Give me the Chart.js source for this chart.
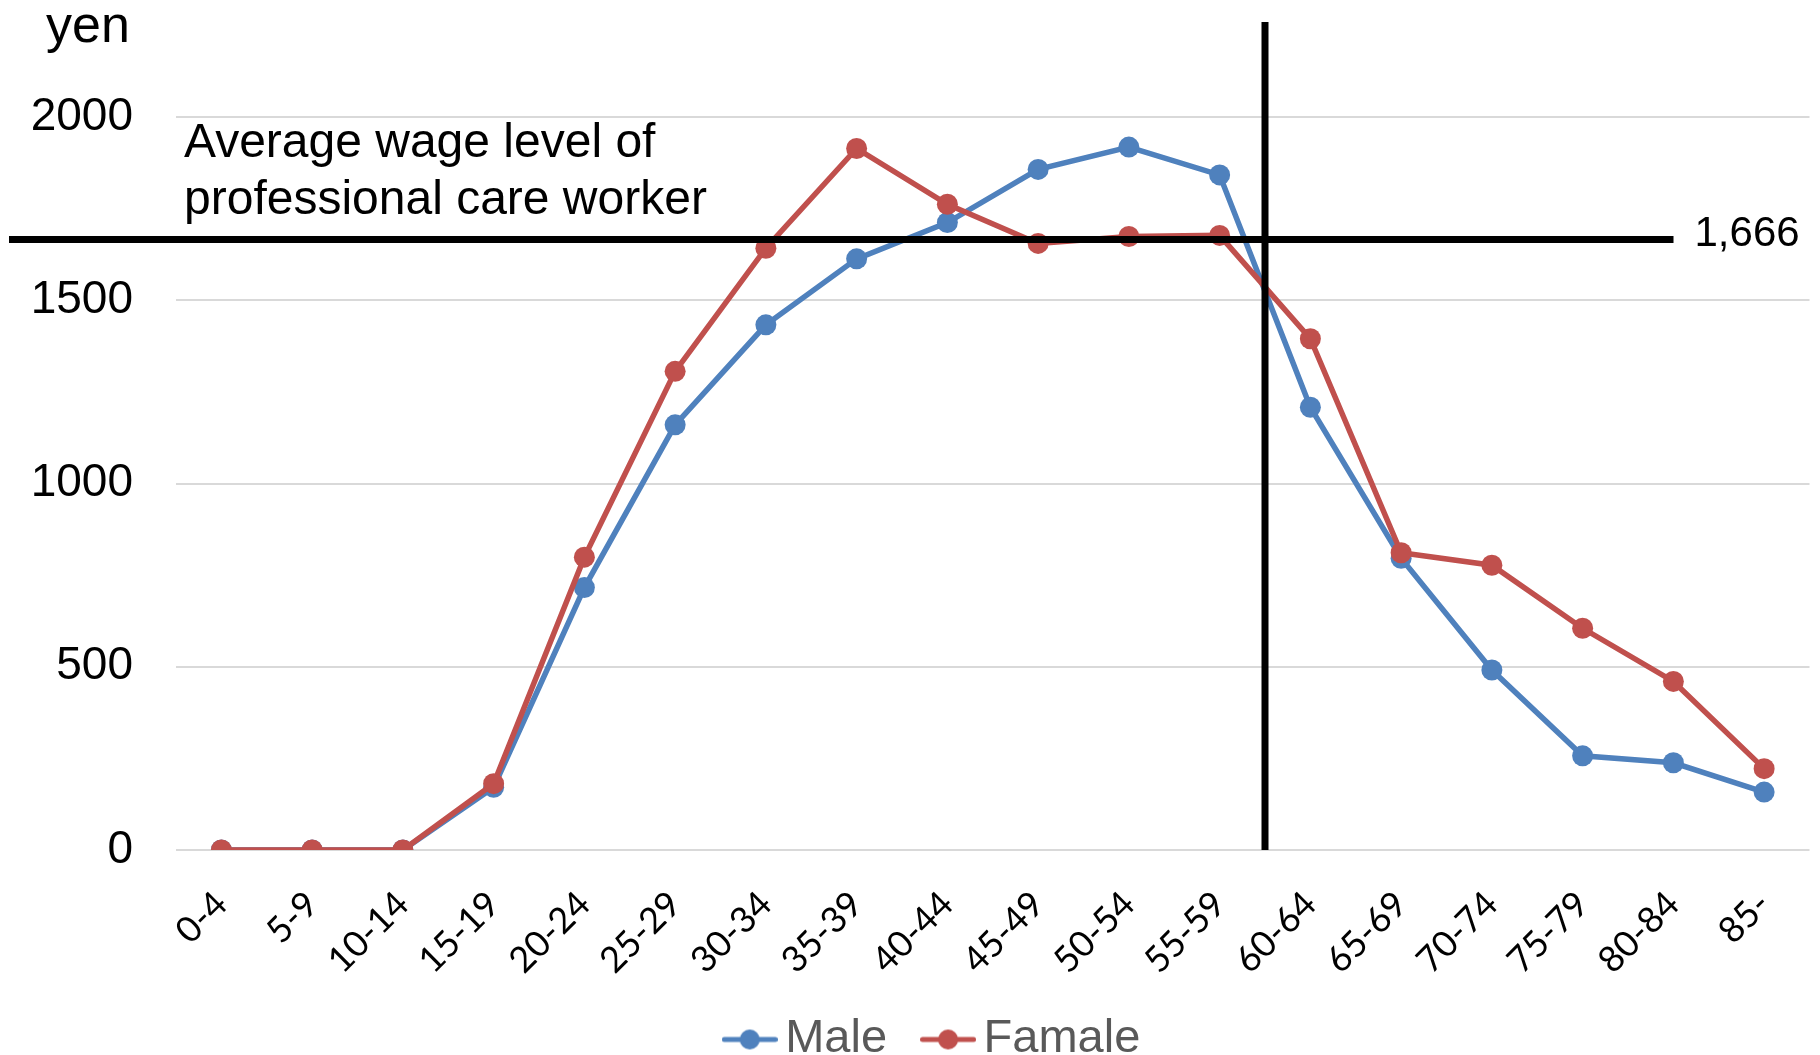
<!DOCTYPE html>
<html>
<head>
<meta charset="utf-8">
<title>Wage by age group</title>
<style>
  html, body { margin: 0; padding: 0; background: #ffffff; }
  #wrap { width: 1820px; height: 1055px; position: relative; }
  canvas { display: block; }
</style>
<script src="https://cdn.jsdelivr.net/npm/chart.js@4.4.1/dist/chart.umd.min.js"></script>
</head>
<body>
<div id="wrap"><canvas id="chart" width="1820" height="1055"></canvas></div>
<script>
// Age groups on the x axis
const ageGroups = ['0-4', '5-9', '10-14', '15-19', '20-24', '25-29', '30-34', '35-39', '40-44',
                   '45-49', '50-54', '55-59', '60-64', '65-69', '70-74', '75-79', '80-84', '85-'];

// Wage per age group (yen)
const maleWage   = [0, 0, 0, 171, 716, 1160, 1433, 1613, 1712, 1857, 1918, 1842, 1208, 796, 491, 257, 238, 158];
const femaleWage = [0, 0, 0, 181, 799, 1306, 1642, 1914, 1762, 1655, 1674, 1677, 1395, 811, 777, 605, 460, 222];

// Y axis range and tick step
const yMin = 0;
const yMax = 2000;
const yStep = 500;

// Reference level and its labels
const careWorkerWage = 1666;
const careWorkerLabel = '1,666';
const careWorkerNote = ['Average wage level of', 'professional care worker'];
const unitLabel = 'yen';

// The divider sits between these two age groups
const dividerBetween = ['55-59', '60-64'];

const seriesNames = ['Male', 'Famale'];
const seriesColors = ['#4F81BD', '#C0504D'];

// Line-with-dot swatch used in the legend
function legendMarker(color) {
  const c = document.createElement('canvas');
  c.width = 56; c.height = 22;
  const g = c.getContext('2d');
  g.strokeStyle = color;
  g.lineWidth = 5;
  g.lineCap = 'round';
  g.beginPath(); g.moveTo(2.5, 11); g.lineTo(53.5, 11); g.stroke();
  g.fillStyle = color;
  g.beginPath(); g.arc(28, 11, 10, 0, Math.PI * 2); g.fill();
  return c;
}
const legendMarkers = seriesColors.map(legendMarker);

const BOTTOM_PAD = -18;
const PLOT_BOTTOM = 850;
const CANVAS_H = 1055;
const LEGEND_SHIFT = 58;

// Nudge the bottom legend a little to the right of centre, and let the
// rotated age labels use the full height below the plot without clipping
const layoutTweaks = {
  id: 'layoutTweaks',
  afterLayout(chart) {
    if (chart.legend) chart.legend.left += LEGEND_SHIFT;
    if (chart.scales.x) chart.scales.x.bottom = chart.height;
  }
};

// Reference lines and free text drawn over the plot
const overlay = {
  id: 'overlay',
  afterDatasetsDraw(chart) {
    const { ctx, chartArea, scales: { x, y } } = chart;
    ctx.save();
    ctx.strokeStyle = '#000000';
    ctx.lineWidth = 7;

    // horizontal reference level
    const yRef = y.getPixelForValue(careWorkerWage);
    ctx.beginPath();
    ctx.moveTo(9, yRef);
    ctx.lineTo(chartArea.right - 136, yRef);
    ctx.stroke();

    // vertical divider between two age groups
    const i0 = ageGroups.indexOf(dividerBetween[0]);
    const i1 = ageGroups.indexOf(dividerBetween[1]);
    const xDiv = (x.getPixelForValue(i0) + x.getPixelForValue(i1)) / 2;
    ctx.beginPath();
    ctx.moveTo(xDiv, 22);
    ctx.lineTo(xDiv, y.getPixelForValue(yMin));
    ctx.stroke();

    // level value
    ctx.fillStyle = '#000000';
    ctx.font = '42px "Liberation Sans", Arial, sans-serif';
    ctx.textAlign = 'left';
    ctx.textBaseline = 'middle';
    ctx.fillText(careWorkerLabel, chartArea.right - 115, yRef - 5);

    // note text
    ctx.textBaseline = 'alphabetic';
    ctx.font = '48px "Liberation Sans", Arial, sans-serif';
    ctx.fillText(careWorkerNote[0], 184, 157);
    ctx.fillText(careWorkerNote[1], 184, 214);

    // unit
    ctx.font = '52px "Liberation Sans", Arial, sans-serif';
    ctx.fillText(unitLabel, 46, 42);
    ctx.restore();
  }
};

function draw() {
  const ctx = document.getElementById('chart').getContext('2d');
  new Chart(ctx, {
    type: 'line',
    data: {
      labels: ageGroups,
      datasets: [
        {
          label: seriesNames[0],
          data: maleWage,
          borderColor: seriesColors[0],
          backgroundColor: seriesColors[0],
          pointBackgroundColor: seriesColors[0],
          borderWidth: 5.5,
          pointRadius: 10.5,
          pointHoverRadius: 10.5,
          pointBorderWidth: 0,
          tension: 0,
          order: 1
        },
        {
          label: seriesNames[1],
          data: femaleWage,
          borderColor: seriesColors[1],
          backgroundColor: seriesColors[1],
          pointBackgroundColor: seriesColors[1],
          borderWidth: 5.5,
          pointRadius: 10.5,
          pointHoverRadius: 10.5,
          pointBorderWidth: 0,
          tension: 0,
          order: 0
        }
      ]
    },
    options: {
      responsive: false,
      devicePixelRatio: 1,
      animation: false,
      layout: { padding: { top: 117, left: 0, right: 0, bottom: BOTTOM_PAD } },
      plugins: {
        tooltip: { enabled: false },
        legend: {
          position: 'bottom',
          labels: {
            usePointStyle: true,
            pointStyleWidth: 24,
            boxHeight: 20,
            padding: 49,
            color: '#595959',
            font: { family: '"Liberation Sans", Arial, sans-serif', size: 47 },
            sort: (a, b) => a.datasetIndex - b.datasetIndex,
            generateLabels(chart) {
              const items = Chart.defaults.plugins.legend.labels.generateLabels(chart);
              items.forEach(it => { it.pointStyle = legendMarkers[it.datasetIndex]; });
              return items;
            }
          }
        }
      },
      scales: {
        x: {
          offset: true,
          grid: { display: false, drawTicks: false },
          border: { display: false },
          ticks: {
            autoSkip: false,
            maxRotation: 45,
            minRotation: 45,
            padding: 33,
            color: '#000000',
            font: { family: 'Lato, "Open Sans", sans-serif', size: 36 }
          },
          afterFit(scale) {
            const legendH = scale.chart.legend ? scale.chart.legend.height : 97;
            scale.height = CANVAS_H - BOTTOM_PAD - legendH - PLOT_BOTTOM;
            // rotated labels hang below their ticks, so keep the plot full width
            scale.paddingLeft = 0;
            scale.paddingRight = 0;
          }
        },
        y: {
          min: yMin,
          max: yMax,
          grid: { color: '#D9D9D9', lineWidth: 2, drawTicks: false },
          border: { display: false },
          ticks: {
            stepSize: yStep,
            padding: 43,
            color: '#000000',
            font: { family: '"Liberation Sans", Arial, sans-serif', size: 46 },
            callback: v => String(v)
          },
          afterFit(scale) { scale.width = 176; }
        }
      }
    },
    plugins: [layoutTweaks, overlay]
  });
}

const fontLoads = [
  '46px "Liberation Sans"',
  '36px Lato'
].map(f => document.fonts.load(f).catch(() => null));
Promise.all(fontLoads).then(draw, draw);
</script>
</body>
</html>
